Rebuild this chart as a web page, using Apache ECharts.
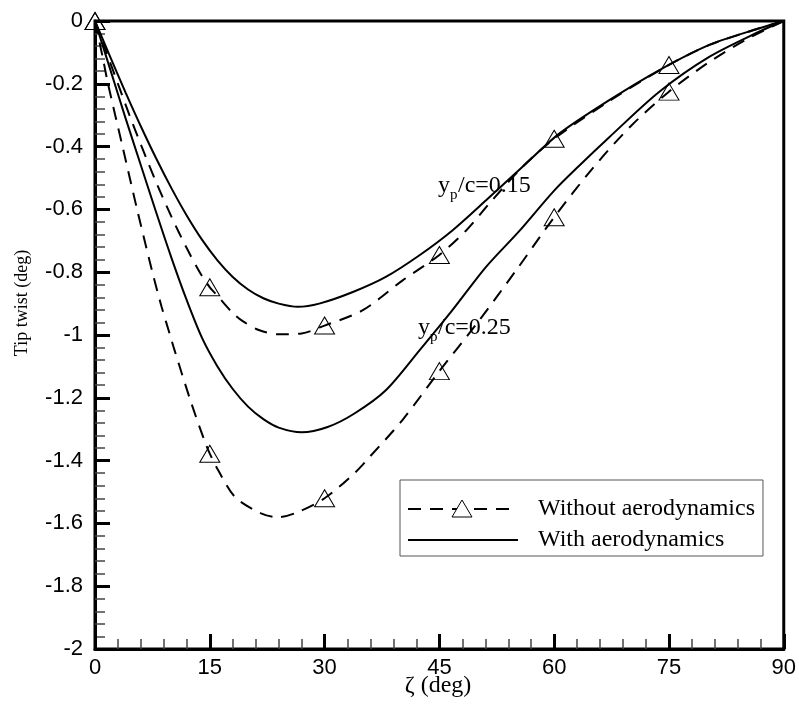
<!DOCTYPE html>
<html>
<head>
<meta charset="utf-8">
<script src="https://cdn.jsdelivr.net/npm/echarts@6/dist/echarts.min.js"></script>
<style>
  html, body { margin: 0; padding: 0; background: #fff; }
  #chart { width: 799px; height: 711px; }
</style>
</head>
<body>
<div id="chart"></div>
<script>
// x ticks / y ticks
var xTicks = [0, 15, 30, 45, 60, 75, 90];
var yTicks = [-2, -1.8, -1.6, -1.4, -1.2, -1, -0.8, -0.6, -0.4, -0.2, 0];

// angles where the triangles sit on the dashed curves
var markerAngles = [0, 15, 30, 45, 60, 75];

// y_p/c = 0.15, without aerodynamics (dashed)
var xNoAero15 = [0, 1.5, 3, 4.5, 6.1, 8, 10, 12, 13.8, 15, 16, 18, 19.3, 21.5, 24, 27, 30, 35, 40.2, 45, 48.5, 51.5, 55.8, 60, 67.2, 75, 80.2, 86.7, 90];
var yNoAero15 = [0, -0.1, -0.2, -0.3, -0.4, -0.514, -0.624, -0.724, -0.805, -0.848, -0.875, -0.93, -0.956, -0.985, -0.998, -0.995, -0.97, -0.921, -0.826, -0.745, -0.667, -0.582, -0.466, -0.375, -0.255, -0.14, -0.077, -0.024, 0];

// y_p/c = 0.15, with aerodynamics (solid)
var xAero15 = [0, 2, 4, 6, 8, 10, 12, 14, 16, 18, 20, 22, 24, 26.5, 29.3, 33.7, 38, 42.4, 46.7, 51.1, 55.8, 60.7, 67.2, 73.7, 80.2, 86.7, 90];
var yAero15 = [0, -0.115, -0.228, -0.336, -0.438, -0.533, -0.62, -0.697, -0.762, -0.815, -0.855, -0.883, -0.9, -0.91, -0.9, -0.863, -0.815, -0.746, -0.667, -0.571, -0.466, -0.358, -0.252, -0.157, -0.077, -0.024, 0];

// y_p/c = 0.25, without aerodynamics (dashed)
var xNoAero25 = [0, 1, 1.7, 3.6, 5.5, 7.5, 8.7, 9.8, 10.4, 12.6, 14.3, 15, 16.1, 18.3, 21.7, 23.9, 26.1, 30, 33.9, 35.9, 40.2, 45, 50, 55, 60, 65, 70, 75, 80, 85, 90];
var yNoAero25 = [0, -0.115, -0.2, -0.4, -0.6, -0.8, -0.91, -1.0, -1.049, -1.218, -1.336, -1.378, -1.431, -1.516, -1.568, -1.58, -1.568, -1.52, -1.44, -1.388, -1.27, -1.115, -0.96, -0.795, -0.625, -0.47, -0.335, -0.225, -0.135, -0.06, 0];

// y_p/c = 0.25, with aerodynamics (solid)
var xAero25 = [0, 2, 4, 6, 8, 10, 12, 14, 16, 18, 20, 22, 24, 27, 30.4, 33.9, 38, 42.4, 46.7, 51.1, 55.4, 60, 63.3, 67.2, 73.7, 80.2, 86.7, 90];
var yAero25 = [0, -0.155, -0.31, -0.46, -0.61, -0.755, -0.89, -1.01, -1.1, -1.172, -1.228, -1.268, -1.295, -1.31, -1.293, -1.25, -1.176, -1.049, -0.921, -0.783, -0.67, -0.54, -0.46, -0.37, -0.226, -0.115, -0.035, 0];

var serif = '"Liberation Serif", "Times New Roman", serif';
var sans = '"Liberation Sans", Arial, sans-serif';

function pairs(xs, ys, withMarkers) {
  return xs.map(function (x, i) {
    var item = { value: [x, ys[i]] };
    if (!withMarkers || markerAngles.indexOf(x) < 0) item.symbol = 'none';
    return item;
  });
}

function dashed(name, xs, ys) {
  return {
    name: name, type: 'line', smooth: 0.3,
    symbol: 'triangle', symbolSize: [20, 17],
    itemStyle: { color: 'rgba(0,0,0,0)', borderColor: '#000', borderWidth: 1 },
    lineStyle: { color: '#000', width: 2, type: [13, 9] },
    emphasis: { disabled: true },
    data: pairs(xs, ys, true),
    z: 3
  };
}
function solid(name, xs, ys) {
  return {
    name: name, type: 'line', smooth: 0.3,
    symbol: 'none', showSymbol: false,
    itemStyle: { color: '#000' },
    lineStyle: { color: '#000', width: 2, type: 'solid' },
    emphasis: { disabled: true },
    data: pairs(xs, ys, false),
    z: 2
  };
}

function label(x, y, value) {
  // y_p/c=value, with p as subscript
  return [
    { type: 'text', x: x, y: y, style: { text: 'y', font: '24px ' + serif, fill: '#000', verticalAlign: 'middle' } },
    { type: 'text', x: x + 12, y: y + 9, style: { text: 'p', font: '15px ' + serif, fill: '#000', verticalAlign: 'middle' } },
    { type: 'text', x: x + 20, y: y, style: { text: '/c=' + value, font: '24px ' + serif, fill: '#000', verticalAlign: 'middle' } }
  ];
}

var chart = echarts.init(document.getElementById('chart'));
chart.setOption({
  animation: false,
  backgroundColor: '#fff',
  grid: {
    left: 95, right: 14, top: 21, bottom: 62,
    show: true, borderColor: '#000', borderWidth: 3, backgroundColor: 'transparent'
  },
  xAxis: {
    type: 'value', min: xTicks[0], max: xTicks[xTicks.length - 1], interval: 15,
    axisLine: { onZero: false, lineStyle: { color: '#000', width: 3 } },
    axisTick: { inside: true, length: 15, lineStyle: { color: '#000', width: 3 } },
    minorTick: { show: true, splitNumber: 5, length: 10, lineStyle: { color: '#444', width: 1.5 } },
    splitLine: { show: false },
    axisLabel: { fontFamily: sans, fontSize: 22, color: '#000', margin: 8 }
  },
  yAxis: {
    type: 'value', min: yTicks[0], max: yTicks[yTicks.length - 1], interval: 0.2,
    axisLine: { onZero: false, lineStyle: { color: '#000', width: 3 } },
    axisTick: { inside: true, length: 15, lineStyle: { color: '#000', width: 3 } },
    minorTick: { show: true, splitNumber: 5, length: 10, lineStyle: { color: '#444', width: 1.5 } },
    splitLine: { show: false },
    axisLabel: {
      fontFamily: sans, fontSize: 22, color: '#000', margin: 12,
      formatter: function (v) { return String(Math.round(v * 10) / 10); }
    }
  },
  legend: {
    data: [
      { name: 'Without aerodynamics', itemStyle: { opacity: 0 } },
      { name: 'With aerodynamics', itemStyle: { opacity: 0 } }
    ],
    orient: 'vertical', left: 400, top: 480,
    itemWidth: 110, itemHeight: 24, itemGap: 7,
    padding: [17, 8, 4, 7],
    borderColor: '#555', borderWidth: 1, backgroundColor: '#fff',
    textStyle: { fontFamily: serif, fontSize: 24, color: '#000', lineHeight: 24, padding: [0, 0, 0, 15] }
  },
  graphic: [
    {
      type: 'text', x: 22, y: 303, rotation: Math.PI / 2,
      style: { text: 'Tip twist (deg)', font: '18px ' + serif, fill: '#000', align: 'center', verticalAlign: 'middle' }
    },
    {
      type: 'text', x: 438, y: 686,
      style: { text: 'ζ (deg)', font: '24px ' + serif, fill: '#000', align: 'center', verticalAlign: 'middle' }
    },
    {
      // legend triangle, drawn larger than the legend's own icon
      type: 'polygon', z: 110,
      shape: { points: [[452, 517], [472, 517], [462, 500]] },
      style: { fill: '#fff', stroke: '#000', lineWidth: 1 }
    }
  ].concat(label(438, 186, '0.15'), label(418, 328, '0.25')),
  series: [
    solid('With aerodynamics', xAero15, yAero15),
    solid('With aerodynamics', xAero25, yAero25),
    dashed('Without aerodynamics', xNoAero15, yNoAero15),
    dashed('Without aerodynamics', xNoAero25, yNoAero25)
  ]
});
</script>
</body>
</html>
